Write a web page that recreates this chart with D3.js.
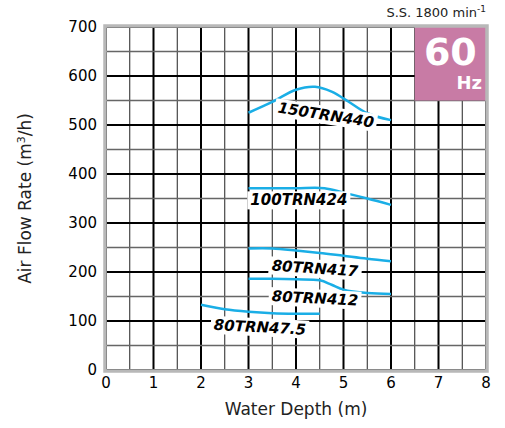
<!DOCTYPE html>
<html>
<head>
<meta charset="utf-8">
<script src="https://cdn.jsdelivr.net/npm/d3@7"></script>
<style>
  body { margin: 0; background: #fff; }
  text { font-family: "DejaVu Sans", sans-serif; }
</style>
</head>
<body>
<div id="chart"></div>
<script>
// pump curves (depth m, air flow m3/h)
const trn440 = [[3, 525], [3.5, 547], [4, 572], [4.4, 578], [4.75, 568], [5.1, 548], [5.5, 524], [6, 510]];
const trn424 = [[3, 371], [3.5, 371], [4, 371], [4.6, 371], [5, 362], [5.5, 350], [6, 337]];
const trn417 = [[3, 248], [3.5, 248], [4, 244], [4.5, 239], [5, 233], [5.5, 227], [6, 222]];
const trn412 = [[3, 186], [3.5, 186], [4, 185], [4.5, 183], [4.75, 174], [5, 164], [5.5, 157], [6, 155]];
const trn475 = [[2, 133], [2.5, 124], [3, 119], [3.5, 116], [4, 115], [4.5, 115]];

const curves = [trn440, trn424, trn417, trn412, trn475];
const names = ["150TRN440", "100TRN424", "80TRN417", "80TRN412", "80TRN47.5"];

const xTicks = [0, 1, 2, 3, 4, 5, 6, 7, 8];
const yTicks = [0, 100, 200, 300, 400, 500, 600, 700];

// label anchors in data units, with tilt
const labelAt = [[4.63, 521, 9], [4.06, 347, 0], [4.4, 208, 4], [4.4, 147, 3], [3.24, 88, 3]];

const width = 505, height = 428;
const x = d3.scaleLinear().domain([0, 8]).range([106, 486]);
const y = d3.scaleLinear().domain([0, 700]).range([370, 27]);

const svg = d3.select("#chart").append("svg").attr("width", width).attr("height", height);

// grid
const grid = svg.append("g");
grid.selectAll("line.v").data(d3.range(0, 8.01, 0.5)).enter().append("line")
    .attr("x1", d => x(d)).attr("x2", d => x(d)).attr("y1", y(700)).attr("y2", y(0))
    .attr("stroke", d => d % 1 === 0 ? "#000" : "#222")
    .attr("stroke-width", d => d % 1 === 0 ? 2 : 1);
grid.selectAll("line.h").data(d3.range(0, 701, 50)).enter().append("line")
    .attr("y1", d => y(d)).attr("y2", d => y(d)).attr("x1", x(0)).attr("x2", x(8))
    .attr("stroke", d => d % 100 === 0 ? "#000" : "#666")
    .attr("stroke-width", d => d % 100 === 0 ? 2 : 1.5);

// 60 Hz badge
svg.append("rect").attr("x", x(6.5)).attr("y", y(700)).attr("width", x(8) - x(6.5)).attr("height", y(550) - y(700))
    .attr("fill", "#c87ba5");
svg.append("text").attr("x", x(7.25)).attr("y", 65).attr("text-anchor", "middle")
    .attr("fill", "#fff").style("font-weight", "bold").style("font-size", "38px").text("60");
svg.append("text").attr("x", 482).attr("y", 89).attr("text-anchor", "end")
    .attr("fill", "#fff").style("font-weight", "bold").style("font-size", "18px").text("Hz");

// frame
svg.append("rect").attr("x", x(0) - 1).attr("y", y(700) - 1).attr("width", x(8) - x(0) + 2).attr("height", y(0) - y(700) + 2)
    .attr("fill", "none").attr("stroke", "#b8b8b8").attr("stroke-width", 3.5);

// curves
const line = d3.line().x(d => x(d[0])).y(d => y(d[1])).curve(d3.curveCatmullRom);
svg.append("g").selectAll("path").data(curves).enter().append("path")
    .attr("d", line).attr("fill", "none").attr("stroke", "#1aaee6").attr("stroke-width", 2.5);

// curve labels
names.forEach((n, i) => {
    const a = labelAt[i];
    const g = svg.append("g").attr("transform", `translate(${x(a[0])},${y(a[1])}) rotate(${a[2]})`);
    const bg = g.append("rect").attr("fill", "#fff");
    const t = g.append("text").attr("text-anchor", "middle").attr("dy", "0.36em")
        .style("font-weight", "bold").style("font-style", "italic").style("font-size", "15px").text(n);
    const b = t.node().getBBox();
    bg.attr("x", b.x - 3).attr("y", b.y).attr("width", b.width + 6).attr("height", b.height);
});

// axes labels
svg.append("g").selectAll("text").data(yTicks).enter().append("text")
    .attr("x", 97).attr("y", d => y(d)).attr("dy", "0.36em").attr("text-anchor", "end")
    .style("font-size", "15px").text(d => d);
svg.append("g").selectAll("text").data(xTicks).enter().append("text")
    .attr("x", d => x(d)).attr("y", 388).attr("text-anchor", "middle")
    .style("font-size", "15px").text(d => d);

svg.append("text").attr("x", x(4)).attr("y", 415).attr("text-anchor", "middle")
    .style("font-size", "17px").attr("fill", "#222").text("Water Depth (m)");

const yl = svg.append("text").attr("transform", `translate(31,${(y(0) + y(700)) / 2}) rotate(-90)`)
    .attr("text-anchor", "middle").style("font-size", "17px").attr("fill", "#222");
yl.append("tspan").text("Air Flow Rate (m");
yl.append("tspan").attr("dy", -6).style("font-size", "11px").text("3");
yl.append("tspan").attr("dy", 6).text("/h)");

const ss = svg.append("text").attr("x", 486).attr("y", 17).attr("text-anchor", "end")
    .style("font-size", "13px").attr("fill", "#222");
ss.append("tspan").text("S.S. 1800 min");
ss.append("tspan").attr("dy", -5).style("font-size", "9px").text("-1");
</script>
</body>
</html>
